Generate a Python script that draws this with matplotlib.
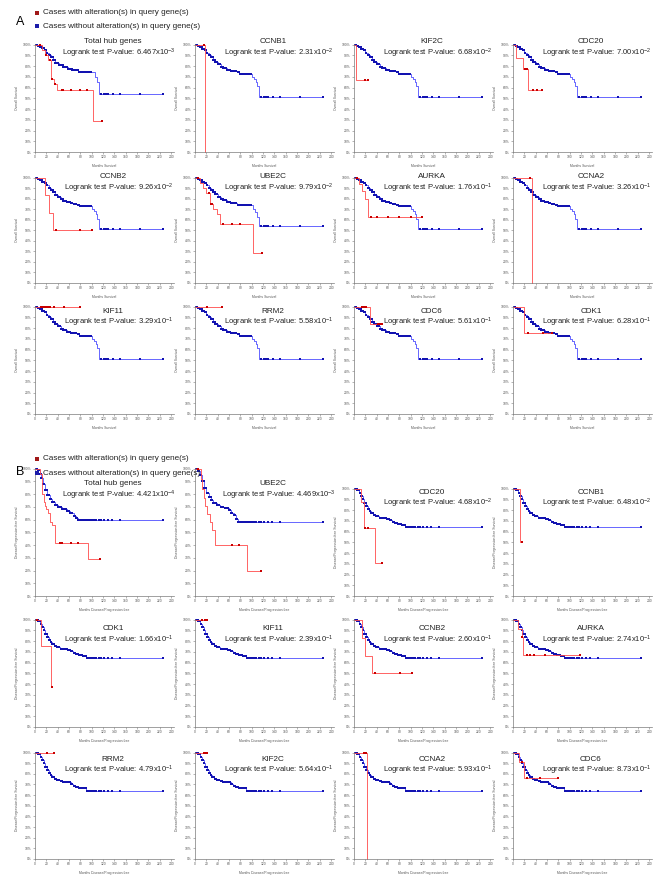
import numpy as np
import matplotlib
matplotlib.use('Agg')
import matplotlib.pyplot as plt
from matplotlib.lines import Line2D

plt.rcParams['font.family'] = ['Liberation Sans', 'DejaVu Sans']
plt.rcParams['mathtext.fontset'] = 'custom'
plt.rcParams['mathtext.rm'] = 'Liberation Sans'
plt.rcParams['mathtext.default'] = 'regular'

# ---------------- data ----------------
# blue curves (cases without alteration), overall survival
blue_os_t = [0, 4, 8, 12, 16, 20, 24, 28, 32, 36, 40, 45, 50, 56, 62, 68, 74, 78, 101, 104, 107, 110, 113]
blue_os_s = [1.0, .99, .975, .96, .945, .925, .905, .885, .86, .835, .815, .795, .78, .765, .755, .75, .74, .73, .70, .68, .655, .61, .51]
blue_os_hub_t = [0, 4, 8, 12, 16, 20, 24, 28, 32, 36, 42, 50, 58, 66, 76, 106, 109, 112]
blue_os_hub_s = [1.0, .99, .98, .965, .945, .925, .90, .88, .855, .83, .81, .79, .77, .76, .748, .70, .65, .536]
blue_os_ube2c_t = [0, 4, 8, 12, 16, 20, 24, 28, 32, 36, 40, 45, 50, 56, 62, 68, 74, 103, 106, 109, 112]
blue_os_ube2c_s = [1.0, .99, .975, .96, .945, .925, .905, .885, .86, .84, .82, .80, .785, .77, .76, .755, .74, .70, .67, .63, .537]
blue_os_cens = [1, 2, 3.5, 5, 6, 7.5, 9, 10, 11.5, 13, 14, 15.5, 17, 18, 19.5, 21, 22, 24, 25, 26.5, 28, 29,
                31, 32, 33.5, 35, 36, 38, 39, 41, 42.5, 44, 45, 47, 48.5, 50, 52, 53, 55, 56.5, 58, 60, 61, 63,
                65, 66, 68, 70, 71.5, 73, 75, 77, 79, 81, 83, 85, 87, 89, 91, 93, 95, 97, 99,
                116, 121, 125, 129, 137, 150, 185, 226]

# blue curves, disease/progression-free survival
blue_dfs_t = [0, 3, 6, 9, 12, 15, 18, 21, 24, 27, 30, 34, 38, 44, 50, 58, 63, 67, 72, 78, 84, 90]
blue_dfs_s = [1.0, .995, .985, .96, .93, .90, .865, .835, .81, .79, .77, .755, .74, .73, .725, .72, .705, .69, .68, .67, .665, .64]
blue_dfs_hub_t = [0, 4, 8, 11, 14, 18, 22, 26, 30, 35, 40, 48, 56, 62, 68, 72, 76]
blue_dfs_hub_s = [1.0, .99, .96, .93, .88, .83, .79, .76, .74, .715, .70, .68, .665, .65, .63, .61, .595]
blue_dfs_ube2c_t = [0, 4, 8, 12, 16, 20, 24, 28, 32, 38, 44, 52, 60, 64, 68, 72, 75]
blue_dfs_ube2c_s = [1.0, .985, .95, .90, .85, .81, .775, .75, .73, .715, .70, .69, .675, .655, .635, .605, .58]
blue_dfs_cens = [1, 2, 3, 4.5, 6, 7, 8.5, 10, 11, 12.5, 14, 15, 16.5, 18, 19, 20.5, 22, 23, 25, 26, 27.5, 29,
                 30.5, 32, 33, 35, 36.5, 38, 40, 41, 43, 45, 46.5, 48, 50, 52, 54, 56, 58, 60, 62, 64, 66, 68,
                 70, 72, 74, 76, 78, 80, 82, 84, 86, 88, 89.5, 91, 92, 93, 94.5, 96, 98, 100, 104, 108, 112,
                 116, 122, 128, 135, 149, 226]

# red curves (cases with alteration): event times, survival after event, censor times
# overall survival
red_os = {
    'Total hub genes': ([0, 12, 18, 23, 28, 33, 38, 102], [1, .95, .907, .86, .68, .63, .58, .29], [8, 20, 26, 30, 35, 47, 50, 63, 79, 92, 118]),
    'CCNB1': ([0, 18], [1, 0], [16]),
    'KIF2C': ([0, 4], [1, .67], [20, 24]),
    'CDC20': ([0, 5, 18, 26], [1, .877, .77, .574], [22, 25, 36, 43, 51]),
    'CCNB2': ([0, 18, 25, 31], [1, .833, .667, .5], [37, 79, 101]),
    'UBE2C': ([0, 9, 14, 20, 26, 32, 38, 44, 103], [1, .95, .9, .85, .75, .70, .65, .56, .28], [5, 24, 28, 30, 49, 66, 79, 118]),
    'AURKA': ([0, 8, 14, 20, 25], [1, .94, .875, .80, .63], [5, 30, 40, 60, 80, 100, 120]),
    'CCNA2': ([0, 34], [1, 0], [30]),
    'KIF11': ([0], [1], [10, 12, 16, 18, 21, 23, 27, 33, 51, 79]),
    'RRM2': ([0], [1], [21, 48]),
    'CDC6': ([0, 29], [1, .84], [14, 18, 22, 42, 45, 49]),
    'CDK1': ([0, 19], [1, .758], [26, 53, 68]),
}
# disease/progression-free survival
red_dfs = {
    'Total hub genes': ([0, 8, 13, 15, 17, 20, 23, 27, 30, 36, 94], [1, .96, .80, .74, .71, .68, .65, .58, .556, .42, .29], [44, 47, 64, 76, 115]),
    'UBE2C': ([0, 10, 13, 16, 18, 22, 26, 30, 35, 91], [1, .92, .84, .77, .71, .64, .58, .52, .40, .20], [6, 65, 78, 116]),
    'CDC20': ([0, 13, 17, 37], [1, .876, .63, .31], [19, 24, 48.5]),
    'CCNB1': ([0, 12], [1, .506], [16]),
    'CDK1': ([0, 10, 28], [1, .75, .375], [4, 30]),
    'KIF11': ([0], [1], [12, 18, 22]),
    'CCNB2': ([0, 14, 19, 32], [1, .83, .66, .5], [37, 81, 102]),
    'AURKA': ([0, 9, 15, 18], [1, .91, .84, .67], [16, 24, 30, 37, 56, 118]),
    'RRM2': ([0], [1], [21, 33]),
    'KIF2C': ([0], [1], [16.5, 19.5, 22]),
    'CCNA2': ([0, 22.5], [1, 0], [17.7, 21]),
    'CDC6': ([0, 10.6, 19.5], [1, .908, .76], [16.5, 25, 47, 80]),
}

genes_os = ['Total hub genes', 'CCNB1', 'KIF2C', 'CDC20', 'CCNB2', 'UBE2C', 'AURKA', 'CCNA2',
            'KIF11', 'RRM2', 'CDC6', 'CDK1']
pvals_os = [('6.467', -3), ('2.31', -2), ('6.68', -2), ('7.00', -2), ('9.26', -2), ('9.79', -2),
            ('1.76', -1), ('3.26', -1), ('3.29', -1), ('5.58', -1), ('5.61', -1), ('6.28', -1)]
genes_dfs = ['Total hub genes', 'UBE2C', 'CDC20', 'CCNB1', 'CDK1', 'KIF11', 'CCNB2', 'AURKA',
             'RRM2', 'KIF2C', 'CCNA2', 'CDC6']
pvals_dfs = [('4.421', -4), ('4.469', -3), ('4.68', -2), ('6.48', -2), ('1.66', -1), ('2.39', -1),
             ('2.60', -1), ('2.74', -1), ('4.79', -1), ('5.64', -1), ('5.93', -1), ('8.73', -1)]

x_ticks = list(range(0, 241, 20))
y_ticks = [i / 10 for i in range(11)]
y_ticklabels = [f'{i * 10}%' for i in range(11)]

# ---------------- layout (pixels) ----------------
W, H = 669, 886
col_left = [35, 195, 354, 513]
ax_w = 139

RED_LINE, RED_MARK = '#ff4a4a', '#c80000'
BLUE_LINE, BLUE_MARK = '#4d4dff', '#1212b0'
GRAY = '#7a7a7a'


def km(ax, t, s, cens, line_col, mark_col, lw, ms):
    end = max(t[-1], max(cens))
    ax.step(list(t) + [end], list(s) + [s[-1]], where='post', color=line_col, lw=lw, clip_on=False)
    idx = np.searchsorted(t, cens, side='right') - 1
    ax.plot(cens, np.array(s)[idx], ls='none', marker='s', ms=ms, mew=0, color=mark_col, clip_on=False)


def panel(top, bottom, left, gene, pv, blue, red, ylab, xlab, ty):
    ax = fig.add_axes([left / W, 1 - bottom / H, ax_w / W, (bottom - top) / H])
    km(ax, blue[0], blue[1], blue[2], BLUE_LINE, BLUE_MARK, 0.6, 2.1)
    km(ax, red[0], red[1], red[2], RED_LINE, RED_MARK, 0.6, 1.7)
    ax.set_xlim(0, 245)
    ax.set_ylim(0, 1.005)
    ax.set_xticks(x_ticks)
    ax.set_yticks(y_ticks)
    ax.set_yticklabels(y_ticklabels)
    for sp in ['top', 'right']:
        ax.spines[sp].set_visible(False)
    for sp in ['left', 'bottom']:
        ax.spines[sp].set_color(GRAY)
        ax.spines[sp].set_linewidth(0.5)
    ax.tick_params(length=1.5, width=0.4, color=GRAY, labelsize=2.4, labelcolor='#555555', pad=1)
    ax.set_ylabel(ylab, fontsize=2.4, color='#555555', labelpad=3)
    ax.set_xlabel(xlab, fontsize=2.4, color='#555555', labelpad=3)
    ax.text(0.56, ty[0], gene, transform=ax.transAxes, ha='center', va='center', fontsize=5.9, color='#222222')
    ax.text(0.6, ty[1], f'Logrank test P-value: {pv[0]}x10$^{{{pv[1]}}}$', transform=ax.transAxes,
            ha='center', va='center', fontsize=5.5, color='#222222')
    return ax


def legend(y1, y2, letter, ly):
    fig.text(20 / W, 1 - ly / H, letter, fontsize=9, ha='center', va='center')
    for y, col, lab in [(y1, '#a01818', 'Cases with alteration(s) in query gene(s)'),
                        (y2, '#1c1ca8', 'Cases without alteration(s) in query gene(s)')]:
        fig.add_artist(Line2D([37 / W], [1 - y / H], marker='s', ms=2.6, mew=0, color=col,
                              transform=fig.transFigure))
        fig.text(43 / W, 1 - y / H, lab, fontsize=5.9, va='center', color='#222222')


fig = plt.figure(figsize=(W / 100, H / 100), dpi=100)

# section A: overall survival
rows_a = [(44, 152), (177, 283), (306, 414)]
text_y_a = [(1.02, 0.915), (1.0, 0.895), (0.95, 0.85)]
blue_os = {'Total hub genes': (blue_os_hub_t, blue_os_hub_s, blue_os_cens),
           'UBE2C': (blue_os_ube2c_t, blue_os_ube2c_s, blue_os_cens)}
for i, gene in enumerate(genes_os):
    r, c = divmod(i, 4)
    top, bottom = rows_a[r]
    b = blue_os.get(gene, (blue_os_t, blue_os_s, blue_os_cens))
    panel(top, bottom, col_left[c], gene, pvals_os[i], b, red_os[gene],
          'Overall Survival', 'Months Survival', text_y_a[r])
legend(13, 26, 'A', 22)

# section B: disease/progression-free survival
rows_b = [(468, 596), (619, 727), (752, 859)]
text_y_b = [(0.88, 0.79), (0.91, 0.80), (0.93, 0.83)]
blue_dfs = {'Total hub genes': (blue_dfs_hub_t, blue_dfs_hub_s, blue_dfs_cens),
            'UBE2C': (blue_dfs_ube2c_t, blue_dfs_ube2c_s, blue_dfs_cens)}
for i, gene in enumerate(genes_dfs):
    r, c = divmod(i, 4)
    top, bottom = rows_b[r]
    ty = text_y_b[r]
    if r == 0 and c >= 2:
        top = 488
        ty = (0.96, 0.86)
    b = blue_dfs.get(gene, (blue_dfs_t, blue_dfs_s, blue_dfs_cens))
    panel(top, bottom, col_left[c], gene, pvals_dfs[i], b, red_dfs[gene],
          'Disease/Progression-free Survival', 'Months Disease/Progression-free', ty)
legend(459, 473, 'B', 472)

fig.savefig('out.png', dpi=100)
